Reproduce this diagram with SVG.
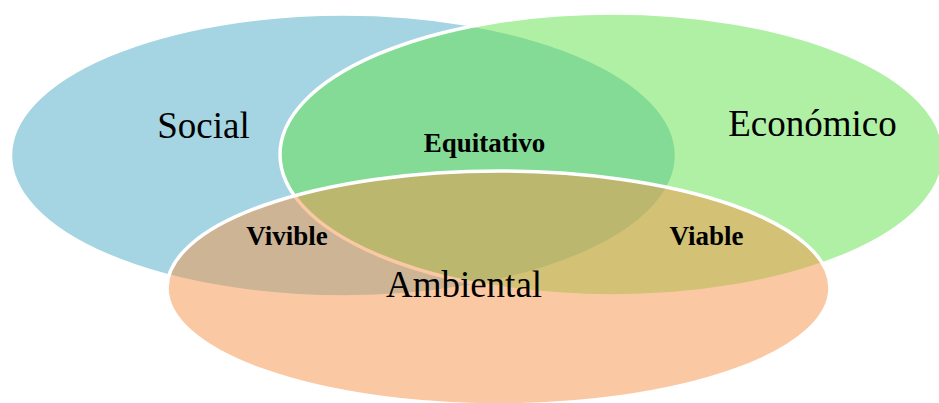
<svg xmlns="http://www.w3.org/2000/svg" width="939" height="403" viewBox="0 0 939 403">
<style>
.c{stroke:#fff;stroke-width:3.5;fill-opacity:0.5}
.big{font-family:"Liberation Serif","Times New Roman",serif;font-size:37px;fill:#000;text-anchor:middle}
.sm{font-family:"Liberation Serif","Times New Roman",serif;font-size:27px;font-weight:bold;fill:#000;text-anchor:middle}
</style>
<rect width="939" height="403" fill="#fff"/>
<g id="social">
<ellipse class="c" cx="343.5" cy="155.5" rx="333" ry="141.5" fill="#4babc5"/>
</g>
<g id="economico">
<ellipse class="c" cx="612" cy="154.5" rx="332" ry="141.5" fill="#61e149"/>
</g>
<g id="ambiental">
<ellipse class="c" cx="498.5" cy="288" rx="331.5" ry="117" fill="#f59347"/>
</g>
<g id="connectors"></g>
<g id="labels">
<text class="big" x="203.5" y="138">Social</text>
<text class="big" x="812.5" y="136">Económico</text>
<text class="big" x="464" y="297">Ambiental</text>
<text class="sm" x="484.5" y="152">Equitativo</text>
<text class="sm" x="287" y="245">Vivible</text>
<text class="sm" x="706.5" y="245">Viable</text>
</g>
</svg>
